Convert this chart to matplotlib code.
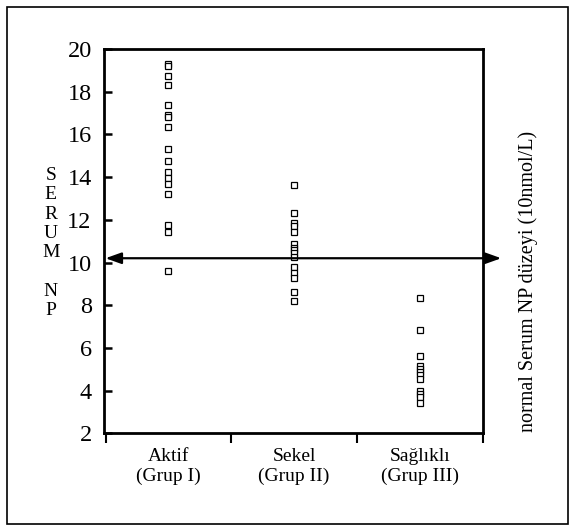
import matplotlib
matplotlib.use("Agg")
import matplotlib.pyplot as plt
from matplotlib.patches import Rectangle

plt.rcParams['font.family'] = ['Liberation Serif', 'DejaVu Serif']

categories = ["Aktif\n(Grup I)", "Sekel\n(Grup II)", "Sağlıklı\n(Grup III)"]
aktif = [19.29, 19.18, 18.75, 18.29, 17.38, 16.92, 16.80, 16.33, 15.31, 14.74, 14.25, 13.97, 13.69, 13.21, 11.76, 11.43, 9.61]
sekel = [13.65, 12.33, 11.84, 11.69, 11.45, 10.87, 10.70, 10.58, 10.43, 10.24, 9.77, 9.49, 9.26, 8.60, 8.21]
saglikli = [8.35, 6.84, 5.64, 5.15, 5.00, 4.89, 4.73, 4.53, 4.00, 3.83, 3.69, 3.44]
groups = [aktif, sekel, saglikli]
normal_level = 10.2
yticks = [2, 4, 6, 8, 10, 12, 14, 16, 18, 20]

fig = plt.figure(figsize=(5.69, 5.26), dpi=100)
ax = fig.add_axes([0.1819, 0.1759, 0.848 - 0.1819, 0.9072 - 0.1759])

for i, vals in enumerate(groups):
    ax.plot([i + 0.5] * len(vals), vals, linestyle='none', marker='s',
            markersize=5.0, markerfacecolor='white', markeredgecolor='black',
            markeredgewidth=0.9)

ax.set_xlim(-0.016, 3.0)
ax.set_ylim(2, 20)
ax.set_yticks(yticks)
ax.set_yticklabels([str(t) for t in yticks], fontsize=17.5)
ax.tick_params(axis='y', direction='in', length=6, width=1.8, pad=8.5)
ax.set_xticks([0, 1, 2, 3])
ax.set_xticklabels([])
ax.tick_params(axis='x', direction='out', length=7, width=1.5)
ax.set_xticks([0.5, 1.5, 2.5], minor=True)
ax.set_xticklabels(categories, minor=True, fontsize=14, linespacing=1.2)
ax.tick_params(axis='x', which='minor', length=0, pad=10.5)

for s in ax.spines.values():
    s.set_linewidth(2.0)

ax.annotate('', xy=(0.0, normal_level), xytext=(3.149, normal_level),
            xycoords='data', textcoords='data', annotation_clip=False,
            arrowprops=dict(arrowstyle='<|-|>,head_length=0.95,head_width=0.34',
                            mutation_scale=10, color='black', lw=1.6,
                            shrinkA=0, shrinkB=0))

fig.text(50.8 / 569, 1 - 243 / 526, "S\nE\nR\nU\nM\n\nN\nP", ha='center', va='center',
         fontsize=14, linespacing=1.17)
fig.text(528 / 569, 1 - 281 / 526, "normal Serum NP düzeyi (10nmol/L)", rotation=90,
         ha='center', va='center', fontsize=14.5)

fig.patches.append(Rectangle((6.5 / 569, 2.5 / 526), (567.5 - 6.5) / 569, (519.5 - 2.5) / 526,
                             transform=fig.transFigure, fill=False, edgecolor='black',
                             linewidth=1.2))

fig.savefig("out.png", dpi=100)
